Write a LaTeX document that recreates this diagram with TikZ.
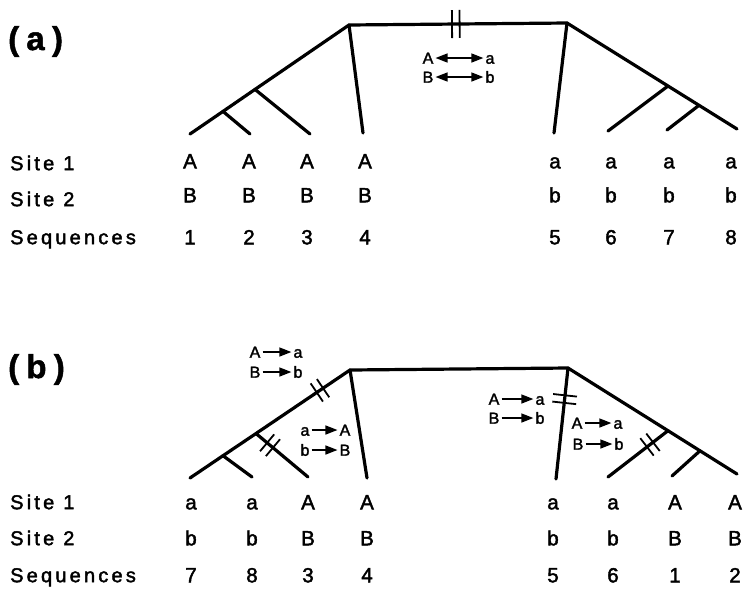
\documentclass[tikz,border=0pt]{standalone}
\usepackage{fontspec}
\setmainfont{Liberation Sans}
\newfontfamily\txtfont[FakeBold=2]{Liberation Sans}
\newfontfamily\spacedfont[LetterSpace=16,FakeBold=2]{Liberation Sans}
\newfontfamily\titlefont[LetterSpace=22,FakeBold=1.5]{Liberation Sans}
\usetikzlibrary{arrows.meta,decorations.markings}

\tikzset{
  branch/.style={line width=3.2pt, line cap=round, line join=round},
  tickline/.style={line width=1.8pt},
  dtick/.style 2 args={postaction={decorate, decoration={markings,
      mark=at position #1 with {\draw[tickline] (-3.8pt,-#2)--(-3.8pt,#2) (3.8pt,-#2)--(3.8pt,#2);}}}},
  state/.style={font=\txtfont\fontsize{20.5}{20.5}\selectfont, inner sep=0pt, text height=14.6pt, text depth=0pt},
  rowlbl/.style={font=\spacedfont\fontsize{20}{20}\selectfont, inner sep=0pt, text height=14.3pt, text depth=0pt, anchor=west},
  panel/.style={font=\titlefont\bfseries\fontsize{33}{33}\selectfont, inner sep=0pt, anchor=base west},
  chg/.style={font=\txtfont\fontsize{16}{16}\selectfont, inner sep=2pt, text height=11.4pt, text depth=0pt},
  conv/.style={line width=1.4pt, -{Triangle[length=12pt,width=9pt]}},
  swap/.style={line width=1.4pt, {Triangle[length=12pt,width=9pt]}-{Triangle[length=12pt,width=9pt]}}
}

\begin{document}
\begin{tikzpicture}[x=1pt,y=-1pt]
\useasboundingbox (0,0) rectangle (746,590);

% ---------------- panel (a) ----------------
\node[panel] (pa) at (8,50) {(a)};

\coordinate (aL) at (349,25);   \coordinate (aR) at (567,23);
\coordinate (an1) at (255,89.4); \coordinate (an2) at (223,111.4);
\coordinate (ae1) at (190,134); \coordinate (ae2) at (250,134);
\coordinate (ae3) at (310,134); \coordinate (ae4) at (363,133);
\coordinate (an3) at (668,86);  \coordinate (an4) at (699,105.3);
\coordinate (ae5) at (554,133); \coordinate (ae6) at (608,131);
\coordinate (ae7) at (667,130); \coordinate (ae8) at (737,129);

\draw[branch] (ae1) -- (an2) -- (an1) -- (aL) -- (aR) -- (an3) -- (an4) -- (ae8);
\draw[branch] (an2) -- (ae2);
\draw[branch] (an1) -- (ae3);
\draw[branch] (aL) -- (ae4);
\draw[branch] (aR) -- (ae5);
\draw[branch] (an3) -- (ae6);
\draw[branch] (an4) -- (ae7);
\path[dtick={0.49}{14pt}] (aL) -- (aR);

\node[chg] (aA) at (428,58) {A}; \node[chg] (aa) at (490,58) {a};
\node[chg] (aB) at (428,77) {B}; \node[chg] (ab) at (490,77) {b};
\draw[swap] (aA.east) -- (aA.east -| aa.west);
\draw[swap] (aB.east) -- (aB.east -| ab.west);

\node[rowlbl] (a-l1) at (10,163) {Site\hspace{9pt}1};
\node[rowlbl] (a-l2) at (10,199) {Site\hspace{9pt}2};
\node[rowlbl] (a-l3) at (10,237) {Sequences};
\foreach \c/\x/\p/\q/\n in {1/190/A/B/1, 2/249/A/B/2, 3/307/A/B/3, 4/365/A/B/4,
                            5/555/a/b/5, 6/611/a/b/6, 7/669/a/b/7, 8/731/a/b/8} {
  \node[state] (a-s1-\c) at (\x,161) {\p};
  \node[state] (a-s2-\c) at (\x,195) {\q};
  \node[state] (a-sq-\c) at (\x,237) {\n};
}

% ---------------- panel (b) ----------------
\node[panel] (pb) at (8,378) {(b)};

\coordinate (bL) at (350,370);   \coordinate (bR) at (568,368);
\coordinate (bn1) at (256,433.5); \coordinate (bn2) at (223,455.7);
\coordinate (be1) at (190,478);  \coordinate (be2) at (252,477);
\coordinate (be3) at (308,477);  \coordinate (be4) at (367,478);
\coordinate (bn3) at (668,430.7); \coordinate (bn4) at (700,450.8);
\coordinate (be5) at (556,479);  \coordinate (be6) at (608,477);
\coordinate (be7) at (672,476);  \coordinate (be8) at (737,474);

\draw[branch] (be1) -- (bn2) -- (bn1) -- (bL) -- (bR) -- (bn3) -- (bn4) -- (be8);
\draw[branch] (bn2) -- (be2);
\draw[branch] (bn1) -- (be3);
\draw[branch] (bL) -- (be4);
\draw[branch] (bR) -- (be5);
\draw[branch] (bn3) -- (be6);
\draw[branch] (bn4) -- (be7);
\path[dtick={0.32}{11pt}] (bL) -- (bn1);
\path[dtick={0.27}{11pt}] (bn1) -- (be3);
\path[dtick={0.28}{12pt}] (bR) -- (be5);
\path[dtick={0.30}{11pt}] (bn3) -- (be6);

% changes on the branches
\node[chg] (c1A) at (255,352) {A}; \node[chg] (c1a) at (298,352) {a};
\node[chg] (c1B) at (255,372) {B}; \node[chg] (c1b) at (298,372) {b};
\draw[conv] (c1A.east) -- (c1A.east -| c1a.west);
\draw[conv] (c1B.east) -- (c1B.east -| c1b.west);

\node[chg] (c2a) at (305,430) {a}; \node[chg] (c2A) at (345,430) {A};
\node[chg] (c2b) at (305,450) {b}; \node[chg] (c2B) at (345,450) {B};
\draw[conv] (c2a.east) -- (c2a.east -| c2A.west);
\draw[conv] (c2b.east) -- (c2b.east -| c2B.west);

\node[chg] (c3A) at (494,399) {A}; \node[chg] (c3a) at (540,399) {a};
\node[chg] (c3B) at (494,418) {B}; \node[chg] (c3b) at (540,418) {b};
\draw[conv] (c3A.east) -- (c3A.east -| c3a.west);
\draw[conv] (c3B.east) -- (c3B.east -| c3b.west);

\node[chg] (c4A) at (577,423) {A}; \node[chg] (c4a) at (618,423) {a};
\node[chg] (c4B) at (578,444) {B}; \node[chg] (c4b) at (619,444) {b};
\draw[conv] (c4A.east) -- (c4A.east -| c4a.west);
\draw[conv] (c4B.east) -- (c4B.east -| c4b.west);

\node[rowlbl] (b-l1) at (10,502) {Site\hspace{9pt}1};
\node[rowlbl] (b-l2) at (10,538) {Site\hspace{9pt}2};
\node[rowlbl] (b-l3) at (10,575) {Sequences};
\foreach \c/\x/\p/\q/\n in {1/191/a/b/7, 2/252/a/b/8, 3/308/A/B/3, 4/367/A/B/4,
                            5/553/a/b/5, 6/613/a/b/6, 7/675/A/B/1, 8/735/A/B/2} {
  \node[state] (b-s1-\c) at (\x,502) {\p};
  \node[state] (b-s2-\c) at (\x,538) {\q};
  \node[state] (b-sq-\c) at (\x,575) {\n};
}
\end{tikzpicture}
\end{document}
